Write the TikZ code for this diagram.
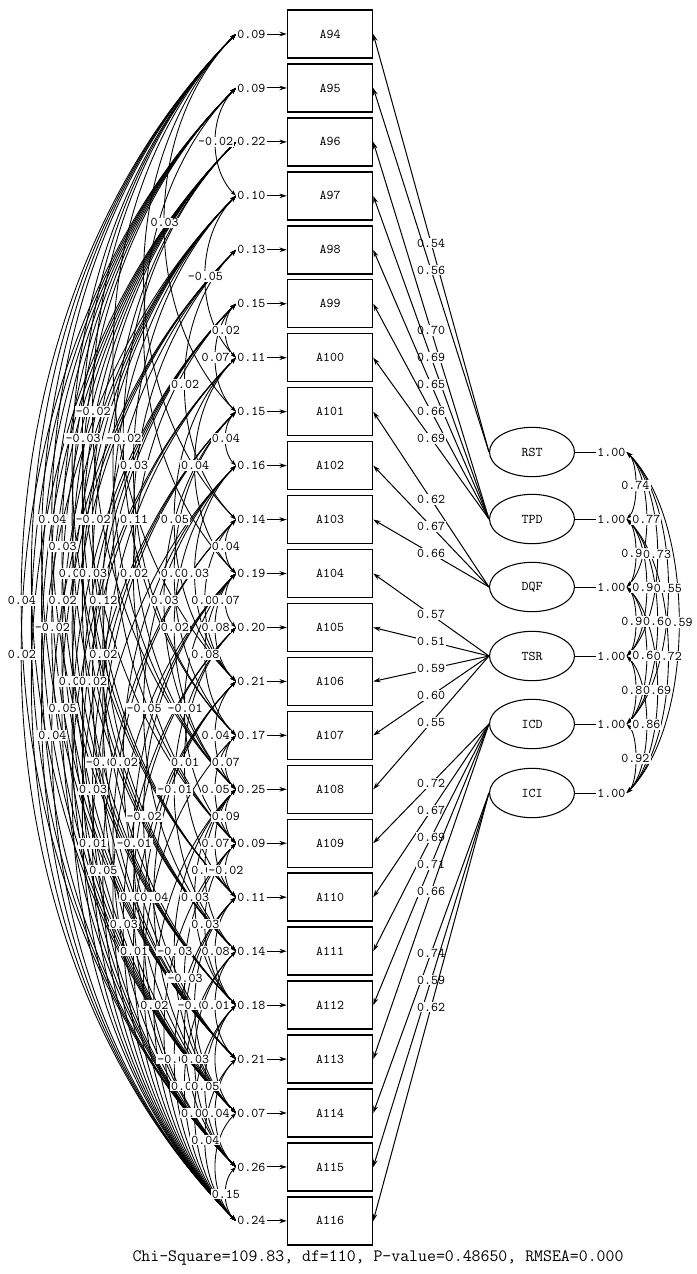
\documentclass[tikz,border=0pt]{standalone}
\usetikzlibrary{calc,arrows.meta,shapes.geometric}
\begin{document}
\begin{tikzpicture}[x=0.75pt,y=-0.75pt,
  txt/.style={font=\ttfamily\fontsize{10}{11}\selectfont},
  box/.style={txt,draw,line width=1.1pt,minimum width=63.75pt,minimum height=36pt,inner sep=0pt},
  lat/.style={txt,draw,ellipse,line width=0.8pt,minimum width=63.75pt,minimum height=37pt,inner sep=0pt},
  lab/.style={txt,inner sep=0.8pt},
  wlab/.style={lab,fill=white},
  tip/.style={-{Stealth[length=5.5pt,width=3.5pt]},line width=0.75pt},
  cov/.style={{Stealth[length=4.5pt,width=3pt]}-{Stealth[length=4.5pt,width=3pt]},line width=0.65pt},
]
\useasboundingbox (0,0) rectangle (696,1274);

% observed variables and error variances
\foreach \n/\ev [count=\i from 0] in {94/0.09,95/0.09,96/0.22,97/0.10,98/0.13,99/0.15,100/0.11,101/0.15,102/0.16,103/0.14,104/0.19,105/0.20,106/0.21,107/0.17,108/0.25,109/0.09,110/0.11,111/0.14,112/0.18,113/0.21,114/0.07,115/0.26,116/0.24} {
  \pgfmathsetmacro\yy{34+53.95*\i}
  \node[box] (a\i) at (330,\yy) {A\n};
  \node[lab,anchor=west] (e\i) at (236,\yy) {\ev};
  \draw[tip] (e\i.east) -- (a\i.west);
}

% latent variables
\foreach \nm/\yy [count=\k from 0] in {RST/452,TPD/519,DQF/587,TSR/656,ICD/724,ICI/793} {
  \node[lat] (L\k) at (532,\yy) {\nm};
  \node[lab,anchor=west] (r\k) at (596,\yy) {1.00};
  \draw[line width=0.75pt] (L\k.east) -- (r\k.west);
}

% loadings
\foreach \i/\f/\v in {0/0/0.54,1/0/0.56,2/1/0.70,3/1/0.69,4/1/0.65,5/1/0.66,6/1/0.69,7/2/0.62,8/2/0.67,9/2/0.66,10/3/0.57,11/3/0.51,12/3/0.59,13/3/0.60,14/3/0.55,15/4/0.72,16/4/0.67,17/4/0.69,18/4/0.71,19/4/0.66,20/5/0.74,21/5/0.59,22/5/0.62} {
  \draw[tip] (L\f.west) -- node[wlab] (ld\i) {\v} (a\i.east);
}

% error covariances
\def\covlist{1/3/-0.02,0/7/0.03,3/6/-0.05,5/6/0.02,5/7/0.07,4/9/0.02,0/14/-0.02,0/15/-0.03,2/13/-0.02,7/8/0.04,3/13/0.03,6/10/0.04,0/18/0.04,2/16/-0.02,4/14/0.11,6/12/0.05,1/18/0.03,9/10/0.04,2/18/0.05,3/17/0.03,5/15/0.02,7/13/0.02,8/12/0.03,0/21/0.04,2/19/0.02,4/17/0.12,7/14/0.03,9/12/0.02,10/11/0.07,2/20/-0.02,8/14/0.02,10/12/0.08,1/22/0.02,5/18/0.02,10/13/0.08,4/20/0.03,5/19/0.02,4/21/0.05,8/17/-0.05,10/15/-0.01,4/22/0.04,12/14/0.04,7/20/-0.04,8/19/0.02,11/16/0.01,13/14/0.07,7/21/0.03,11/17/-0.01,13/15/0.05,10/19/-0.02,14/15/0.09,8/22/0.01,10/20/-0.01,14/16/0.07,9/22/0.05,14/17/0.03,15/16/-0.02,11/21/0.05,12/20/0.04,14/18/0.03,11/22/0.03,15/18/0.03,12/22/0.01,14/20/-0.03,16/18/0.08,15/20/-0.03,14/22/0.02,16/20/-0.02,17/19/0.01,16/22/-0.02,17/21/0.03,17/22/0.07,18/21/0.05,18/22/0.03,19/21/0.04,19/22/0.04,21/22/0.15}
\def\covextra{0/20,0/19,1/21,1/20,1/19,2/21,2/22,3/22,3/20,0/16,1/17,1/16,2/17,3/18,3/19,5/20,6/21,6/22,2/14,3/15,5/21,6/19,7/22,9/21,10/22,13/22,15/22,12/21,20/22,18/20,16/21,0/12,1/10,0/9}
\foreach \i/\j in \covextra {
  \pgfmathsetmacro\aa{13.6*(\j-\i)}
  \draw[cov] (e\i.west) .. controls ($(e\i.west)+(-\aa,\aa)$) and ($(e\j.west)+(-\aa,-\aa)$) .. (e\j.west);
}
\foreach \i/\j/\v in \covlist {
  \pgfmathsetmacro\aa{13.6*(\j-\i)}
  \draw[cov] (e\i.west) .. controls ($(e\i.west)+(-\aa,\aa)$) and ($(e\j.west)+(-\aa,-\aa)$) .. (e\j.west);
}
\foreach \i/\j/\v in \covlist {
  \pgfmathsetmacro\bb{10.2*(\j-\i)}
  \node[wlab] (c\i x\j) at ($(e\i.west)!0.5!(e\j.west)+(-\bb,0)$) {\v};
}

% latent correlations
\def\corlist{0/1/0.74,1/2/0.93,2/3/0.91,3/4/0.82,4/5/0.92,0/2/0.77,1/3/0.94,2/4/0.64,3/5/0.86,0/3/0.73,1/4/0.66,2/5/0.69,0/4/0.55,1/5/0.72,0/5/0.59}
\foreach \i/\j/\v in \corlist {
  \pgfmathsetmacro\aa{(10.8*(\j-\i)-2)/0.75}
  \draw[cov] (r\i.east) .. controls ($(r\i.east)+(\aa,\aa)$) and ($(r\j.east)+(\aa,-\aa)$) .. (r\j.east);
}
\foreach \i/\j/\v in \corlist {
  \pgfmathsetmacro\bb{10.8*(\j-\i)-2}
  \node[wlab] (k\i x\j) at ($(r\i.east)!0.5!(r\j.east)+(\bb,0)$) {\v};
}

\node[txt,font=\ttfamily\fontsize{13}{15}\selectfont] (foot) at (378,1258) {Chi-Square=109.83, df=110, P-value=0.48650, RMSEA=0.000};
\end{tikzpicture}
\end{document}
